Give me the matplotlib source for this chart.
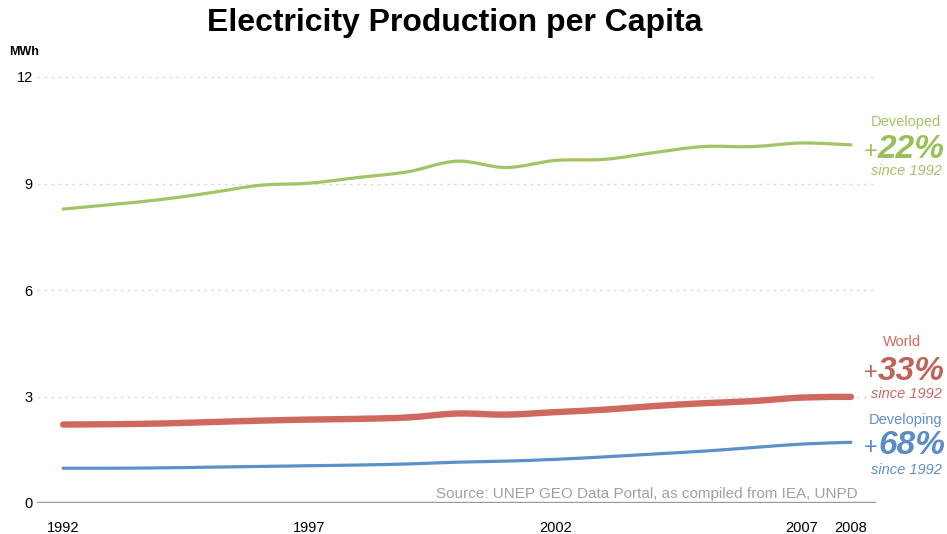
import matplotlib
matplotlib.use("Agg")
import matplotlib.pyplot as plt
from matplotlib.path import Path
from matplotlib.patches import PathPatch
import numpy as np

plt.rcParams['font.family'] = ['Liberation Sans', 'DejaVu Sans']

years = list(range(1992, 2009))
developed = [8.28, 8.41, 8.55, 8.74, 8.95, 9.01, 9.17, 9.33, 9.63, 9.45, 9.65, 9.68, 9.87, 10.04, 10.04, 10.14, 10.09]
world = [2.21, 2.22, 2.24, 2.28, 2.32, 2.35, 2.37, 2.41, 2.52, 2.49, 2.56, 2.63, 2.73, 2.81, 2.87, 2.97, 2.99]
developing = [0.98, 0.98, 0.99, 1.01, 1.03, 1.05, 1.07, 1.10, 1.15, 1.18, 1.23, 1.30, 1.38, 1.46, 1.56, 1.66, 1.71]

xtick_years = [1992, 1997, 2002, 2007, 2008]
yticks = [0, 3, 6, 9, 12]

series = [
    ("Developed", developed, "#a3c466", 2.3, "+", "22%", "#9bbf5a"),
    ("World", world, "#cf685f", 4.6, "+", "33%", "#c0635b"),
    ("Developing", developing, "#5b90c8", 2.3, "+", "68%", "#5a8dc8"),
]

W, H = 947, 534
fig = plt.figure(figsize=(W / 100, H / 100), dpi=100)
ax = fig.add_axes([37 / W, 1 - 503 / H, (876 - 37) / W, (503 - 77) / H])
ax.set_xlim(1991.47, 2008.51)
ax.set_ylim(0, 12)

for s in ax.spines.values():
    s.set_visible(False)

for yv in yticks[1:]:
    ax.axhline(yv, color="#dcdcdc", lw=1, ls=(0, (2, 3)), zorder=1)
ax.axhline(0, color="#999999", lw=2.4, zorder=2)


def smooth_path(xs, ys):
    pts = np.column_stack([xs, ys]).astype(float)
    n = len(pts)
    verts = [pts[0]]
    codes = [Path.MOVETO]
    for i in range(n - 1):
        p0 = pts[i - 1] if i > 0 else pts[i]
        p1 = pts[i]
        p2 = pts[i + 1]
        p3 = pts[i + 2] if i + 2 < n else pts[i + 1]
        c1 = p1 + (p2 - p0) / 6.0
        c2 = p2 - (p3 - p1) / 6.0
        verts += [c1, c2, p2]
        codes += [Path.CURVE4] * 3
    return Path(verts, codes)


for name, vals, col, lw, plus, pct, tcol in series:
    patch = PathPatch(smooth_path(years, vals), facecolor="none", edgecolor=col,
                      lw=lw, capstyle="round", joinstyle="round", zorder=3)
    ax.add_patch(patch)

ax.set_xticks(xtick_years)
ax.set_xticklabels([str(y) for y in xtick_years], fontsize=10.5)
ax.set_yticks(yticks)
ax.set_yticklabels([str(y) for y in yticks], fontsize=10.5)
ax.tick_params(axis="both", length=0)
ax.tick_params(axis="x", pad=13)
ax.tick_params(axis="y", pad=3)


def ft(x, y, s, **kw):
    fig.text(x / W, 1 - y / H, s, **kw)


ft(455, 23, "Electricity Production per Capita", fontsize=23, fontweight="bold",
   ha="center", va="center", color="black")
ft(9, 52, "MWh", fontsize=9, fontweight="bold", ha="left", va="center")
ft(858, 494, "Source: UNEP GEO Data Portal, as compiled from IEA, UNPD",
   fontsize=11, color="#a0a0a0", ha="right", va="center")

labels_pos = [
    (906, 122, 150, 171),
    (902, 342, 371, 394),
    (906, 420, 446, 470),
]
for (name, vals, col, lw, plus, pct, tcol), (lx, ly, py, sy) in zip(series, labels_pos):
    ft(lx, ly, name, fontsize=10.5, color=col, ha="center", va="center")
    ft(878, py + 2, plus, fontsize=17, color=tcol, ha="right", va="center")
    ft(878, py, pct, fontsize=24, color=tcol, fontweight="bold", style="italic",
       ha="left", va="center")
    ft(906, sy, "since 1992", fontsize=10.5, color=col, style="italic",
       ha="center", va="center")

fig.savefig("out.png", dpi=100)
